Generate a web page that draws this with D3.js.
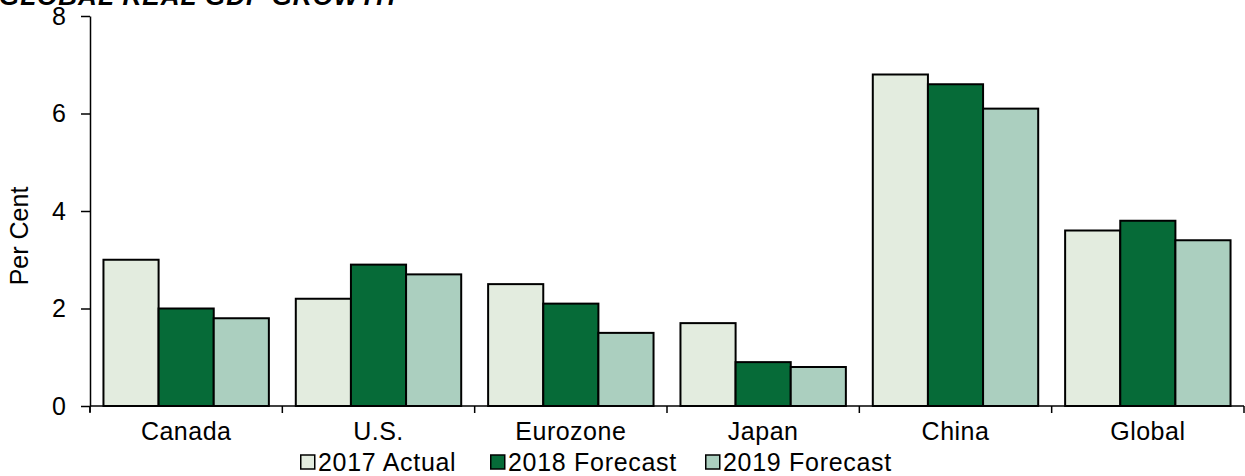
<!DOCTYPE html>
<html>
<head>
<meta charset="utf-8">
<script src="https://cdn.jsdelivr.net/npm/d3@7"></script>
<style>
  html, body { margin: 0; padding: 0; background: #fff; }
  svg { display: block; font-family: "Liberation Sans", Arial, sans-serif; }
</style>
</head>
<body>
<svg id="chart" width="1245" height="476"></svg>
<script>
// Real GDP growth, per cent
const categories = ["Canada", "U.S.", "Eurozone", "Japan", "China", "Global"];
const seriesNames = ["2017 Actual", "2018 Forecast", "2019 Forecast"];
const actual2017 = [3.0, 2.2, 2.5, 1.7, 6.8, 3.6];
const forecast2018 = [2.0, 2.9, 2.1, 0.9, 6.6, 3.8];
const forecast2019 = [1.8, 2.7, 1.5, 0.8, 6.1, 3.4];
const yTicks = [0, 2, 4, 6, 8];
const colors = ["#e3ecdf", "#066b38", "#abcfbf"];

const seriesValues = [actual2017, forecast2018, forecast2019];

const svg = d3.select("#chart");
const left = 90;
const fontSize = 25;

const y = d3.scaleLinear().domain([0, 8]).range([406, 16]);
const x0 = d3.scaleBand().domain(categories).range([left, 1244])
  .paddingInner(0.14).paddingOuter(0.07);
const x1 = d3.scaleBand().domain(seriesNames).range([0, x0.bandwidth()]);

// Title (runs off the top edge)
svg.append("text")
  .attr("x", -1).attr("y", 5)
  .attr("font-size", 26).attr("font-weight", "bold").attr("font-style", "italic")
  .attr("letter-spacing", 1)
  .text("GLOBAL REAL GDP GROWTH");

// Bars
const groups = svg.append("g").selectAll("g")
  .data(categories)
  .join("g")
  .attr("transform", d => `translate(${x0(d)},0)`);

groups.selectAll("rect")
  .data((d, i) => seriesNames.map((s, j) => ({ s, j, v: seriesValues[j][i] })))
  .join("rect")
  .attr("x", d => x1(d.s))
  .attr("y", d => y(d.v))
  .attr("width", x1.bandwidth())
  .attr("height", d => y(0) - y(d.v))
  .attr("fill", d => colors[d.j])
  .attr("stroke", "#000")
  .attr("stroke-width", 2);

// Y axis
const yAxis = d3.axisLeft(y).tickValues(yTicks).tickSize(9).tickSizeOuter(0).tickPadding(15);
const gy = svg.append("g").attr("transform", `translate(${left},0)`).call(yAxis);
gy.select(".domain").attr("stroke", "#000").attr("stroke-width", 1.5);
gy.selectAll(".tick line").attr("stroke", "#000").attr("stroke-width", 1.5);
gy.selectAll(".tick text").attr("font-size", fontSize).attr("fill", "#000")
  .attr("font-family", "Liberation Sans, Arial, sans-serif");
gy.append("line").attr("x1", 0).attr("x2", 0).attr("y1", y(0)).attr("y2", y(0) + 6)
  .attr("stroke", "#000").attr("stroke-width", 1.5);

// X axis with category boundary ticks
const gx = svg.append("g");
gx.append("line")
  .attr("x1", left).attr("x2", 1244)
  .attr("y1", y(0)).attr("y2", y(0))
  .attr("stroke", "#000").attr("stroke-width", 1.5);
const gap = x0.step() * x0.paddingInner() / 2;
const boundaries = categories.map(c => x0(c) - gap);
boundaries.push(x0(categories[categories.length - 1]) + x0.bandwidth() + gap);
gx.selectAll("line.bt")
  .data(boundaries)
  .join("line")
  .attr("class", "bt")
  .attr("x1", d => d).attr("x2", d => d)
  .attr("y1", y(0)).attr("y2", y(0) + 7)
  .attr("stroke", "#000").attr("stroke-width", 1.5);
gx.selectAll("text")
  .data(categories)
  .join("text")
  .attr("x", d => x0(d) + x0.bandwidth() / 2)
  .attr("y", 440)
  .attr("text-anchor", "middle")
  .attr("font-size", fontSize)
  .attr("letter-spacing", 0.5)
  .text(d => d);

// Y axis title
svg.append("text")
  .attr("transform", "translate(28,236) rotate(-90)")
  .attr("text-anchor", "middle")
  .attr("font-size", fontSize)
  .text("Per Cent");

// Legend
const legendX = [300, 490, 705];
const legend = svg.append("g").selectAll("g")
  .data(seriesNames)
  .join("g")
  .attr("transform", (d, i) => `translate(${legendX[i]},455)`);
legend.append("rect")
  .attr("x", 0.75).attr("y", 0).attr("width", 14).attr("height", 14)
  .attr("fill", (d, i) => colors[i])
  .attr("stroke", "#000").attr("stroke-width", 1.5);
legend.append("text")
  .attr("x", 18).attr("y", 16)
  .attr("font-size", fontSize)
  .attr("letter-spacing", 0.7)
  .text(d => d);
</script>
</body>
</html>
